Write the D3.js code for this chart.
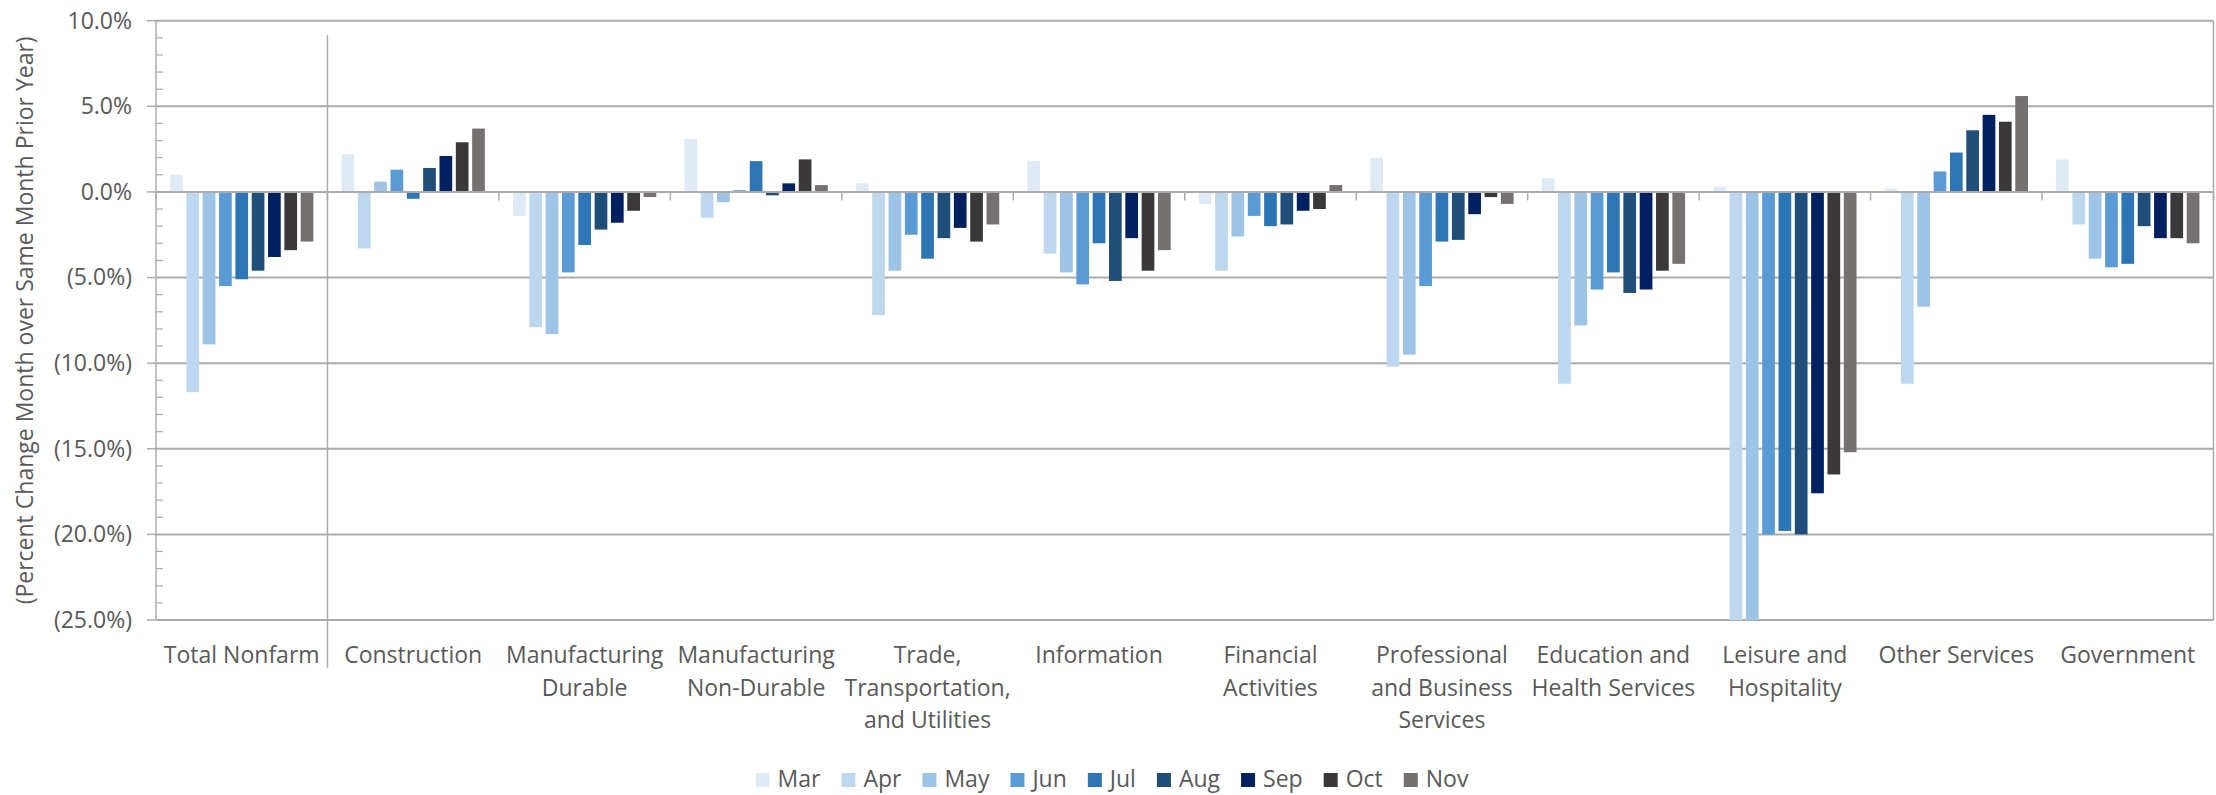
<!DOCTYPE html>
<html>
<head>
<meta charset="utf-8">
<script src="https://cdn.jsdelivr.net/npm/d3@7"></script>
<style>
  html, body { margin: 0; padding: 0; background: #fff; }
  svg { display: block; }
  text { font-family: "Open Sans", "Noto Sans", sans-serif; fill: #595959; }
</style>
</head>
<body>
<svg id="chart" width="2216" height="795"></svg>
<script>
// ---- Data ----
const categories = ["Total Nonfarm", "Construction", "Manufacturing Durable", "Manufacturing Non-Durable",
  "Trade, Transportation, and Utilities", "Information", "Financial Activities",
  "Professional and Business Services", "Education and Health Services", "Leisure and Hospitality",
  "Other Services", "Government"];
const categoryLabelLines = [
  ["Total Nonfarm"], ["Construction"], ["Manufacturing", "Durable"], ["Manufacturing", "Non-Durable"],
  ["Trade,", "Transportation,", "and Utilities"], ["Information"], ["Financial", "Activities"],
  ["Professional", "and Business", "Services"], ["Education and", "Health Services"],
  ["Leisure and", "Hospitality"], ["Other Services"], ["Government"]];
const months = ["Mar", "Apr", "May", "Jun", "Jul", "Aug", "Sep", "Oct", "Nov"];

const mar = [1.0, 2.2, -1.4, 3.1, 0.5, 1.8, -0.7, 2.0, 0.8, 0.3, 0.2, 1.9];
const apr = [-11.7, -3.3, -7.9, -1.5, -7.2, -3.6, -4.6, -10.2, -11.2, -25.0, -11.2, -1.9];
const may = [-8.9, 0.6, -8.3, -0.6, -4.6, -4.7, -2.6, -9.5, -7.8, -25.0, -6.7, -3.9];
const jun = [-5.5, 1.3, -4.7, 0.1, -2.5, -5.4, -1.4, -5.5, -5.7, -20.0, 1.2, -4.4];
const jul = [-5.1, -0.4, -3.1, 1.8, -3.9, -3.0, -2.0, -2.9, -4.7, -19.8, 2.3, -4.2];
const aug = [-4.6, 1.4, -2.2, -0.2, -2.7, -5.2, -1.9, -2.8, -5.9, -20.0, 3.6, -2.0];
const sep = [-3.8, 2.1, -1.8, 0.5, -2.1, -2.7, -1.1, -1.3, -5.7, -17.6, 4.5, -2.7];
const oct = [-3.4, 2.9, -1.1, 1.9, -2.9, -4.6, -1.0, -0.3, -4.6, -16.5, 4.1, -2.7];
const nov = [-2.9, 3.7, -0.3, 0.4, -1.9, -3.4, 0.4, -0.7, -4.2, -15.2, 5.6, -3.0];
const seriesValues = [mar, apr, may, jun, jul, aug, sep, oct, nov];

const yTickValues = [10, 5, 0, -5, -10, -15, -20, -25];
const yAxisTitle = "(Percent Change Month over Same Month Prior Year)";
const colors = ["#DEEBF7", "#BDD7EE", "#9DC3E6", "#5B9BD5", "#2E75B6", "#1F4E79", "#002060", "#3A3838", "#767171"];

// ---- Layout ----
const W = 2216, H = 795;
const plot = { left: 156, right: 2213.5, top: 20.7, bottom: 620 };
const fontSize = 23;
const gridColor = "#ABABAB";

const svg = d3.select("#chart");

const x0 = d3.scaleBand().domain(categories).range([plot.left, plot.right]).paddingInner(0).paddingOuter(0);
const x1 = d3.scaleBand().domain(months).range([0, x0.bandwidth()]).paddingInner(0.222).paddingOuter(0.861);
const y = d3.scaleLinear().domain([-25, 10]).range([plot.bottom, plot.top]);

const fmt = v => {
  const s = Math.abs(v).toFixed(1) + "%";
  return v < 0 ? "(" + s + ")" : s;
};

// Gridlines
svg.append("g").selectAll("line").data(yTickValues).join("line")
  .attr("x1", plot.left).attr("x2", plot.right)
  .attr("y1", d => y(d)).attr("y2", d => y(d))
  .attr("stroke", gridColor).attr("stroke-width", 2);

// Right border
svg.append("line").attr("x1", plot.right).attr("x2", plot.right)
  .attr("y1", plot.top).attr("y2", plot.bottom)
  .attr("stroke", gridColor).attr("stroke-width", 1.5);

// Bars
const rows = categories.map((c, i) => ({ cat: c, vals: months.map((m, j) => ({ m, j, v: seriesValues[j][i] })) }));
const groups = svg.append("g").selectAll("g").data(rows).join("g")
  .attr("transform", d => `translate(${x0(d.cat)},0)`);
groups.selectAll("rect").data(d => d.vals).join("rect")
  .attr("x", d => x1(d.m))
  .attr("width", x1.bandwidth())
  .attr("y", d => y(Math.max(0, d.v)))
  .attr("height", d => Math.abs(y(d.v) - y(0)))
  .attr("fill", d => colors[d.j]);

// Category axis line at zero with ticks
svg.append("line").attr("x1", plot.left).attr("x2", plot.right)
  .attr("y1", y(0)).attr("y2", y(0)).attr("stroke", gridColor).attr("stroke-width", 2);
const boundaries = categories.map(c => x0(c)).concat([plot.right]);
svg.append("g").selectAll("line").data(boundaries).join("line")
  .attr("x1", d => d).attr("x2", d => d)
  .attr("y1", y(0)).attr("y2", y(0) + 8.5)
  .attr("stroke", gridColor).attr("stroke-width", 1.5);

// Separator after Total Nonfarm
svg.append("line")
  .attr("x1", x0(categories[1])).attr("x2", x0(categories[1]))
  .attr("y1", 35).attr("y2", 668)
  .attr("stroke", gridColor).attr("stroke-width", 1.5);

// Y axis line
svg.append("line").attr("x1", plot.left).attr("x2", plot.left)
  .attr("y1", plot.top).attr("y2", plot.bottom)
  .attr("stroke", gridColor).attr("stroke-width", 1.5);
// Major ticks (outside)
svg.append("g").selectAll("line").data(yTickValues).join("line")
  .attr("x1", plot.left - 9).attr("x2", plot.left)
  .attr("y1", d => y(d)).attr("y2", d => y(d))
  .attr("stroke", gridColor).attr("stroke-width", 1.5);
// Minor ticks (inside)
const minorTicks = d3.range(-25, 11, 1).filter(v => v % 5 !== 0);
svg.append("g").selectAll("line").data(minorTicks).join("line")
  .attr("x1", plot.left).attr("x2", plot.left + 7)
  .attr("y1", d => y(d)).attr("y2", d => y(d))
  .attr("stroke", gridColor).attr("stroke-width", 1.2);

// Y tick labels
svg.append("g").selectAll("text").data(yTickValues).join("text")
  .attr("x", 132).attr("y", d => y(d) + 7.8)
  .attr("text-anchor", "end").attr("font-size", fontSize)
  .text(d => fmt(d));

// Y axis title
svg.append("text")
  .attr("transform", `translate(33,${(plot.top + plot.bottom) / 2}) rotate(-90)`)
  .attr("text-anchor", "middle").attr("font-size", fontSize)
  .text(yAxisTitle);

// Category labels
const labelG = svg.append("g").selectAll("text").data(categories).join("text")
  .attr("x", d => x0(d) + x0.bandwidth() / 2)
  .attr("y", 663)
  .attr("text-anchor", "middle").attr("font-size", fontSize);
labelG.each(function (d, i) {
  d3.select(this).selectAll("tspan").data(categoryLabelLines[i]).join("tspan")
    .attr("x", x0(d) + x0.bandwidth() / 2)
    .attr("dy", (t, k) => k === 0 ? 0 : 32.5)
    .text(t => t);
});

// Legend
const legend = svg.append("g");
const items = legend.selectAll("g").data(months).join("g");
items.append("rect").attr("width", 14).attr("height", 14).attr("y", 773).attr("fill", (d, i) => colors[i]);
items.append("text").attr("y", 787).attr("font-size", fontSize).text(d => d);
let cx = 0;
const pos = [];
items.each(function () {
  const tw = d3.select(this).select("text").node().getComputedTextLength();
  pos.push(cx);
  cx += 22 + tw + 21;
});
const total = cx - 21;
const startX = 1112 - total / 2;
items.each(function (d, i) {
  d3.select(this).select("rect").attr("x", startX + pos[i]);
  d3.select(this).select("text").attr("x", startX + pos[i] + 22);
});
</script>
</body>
</html>
